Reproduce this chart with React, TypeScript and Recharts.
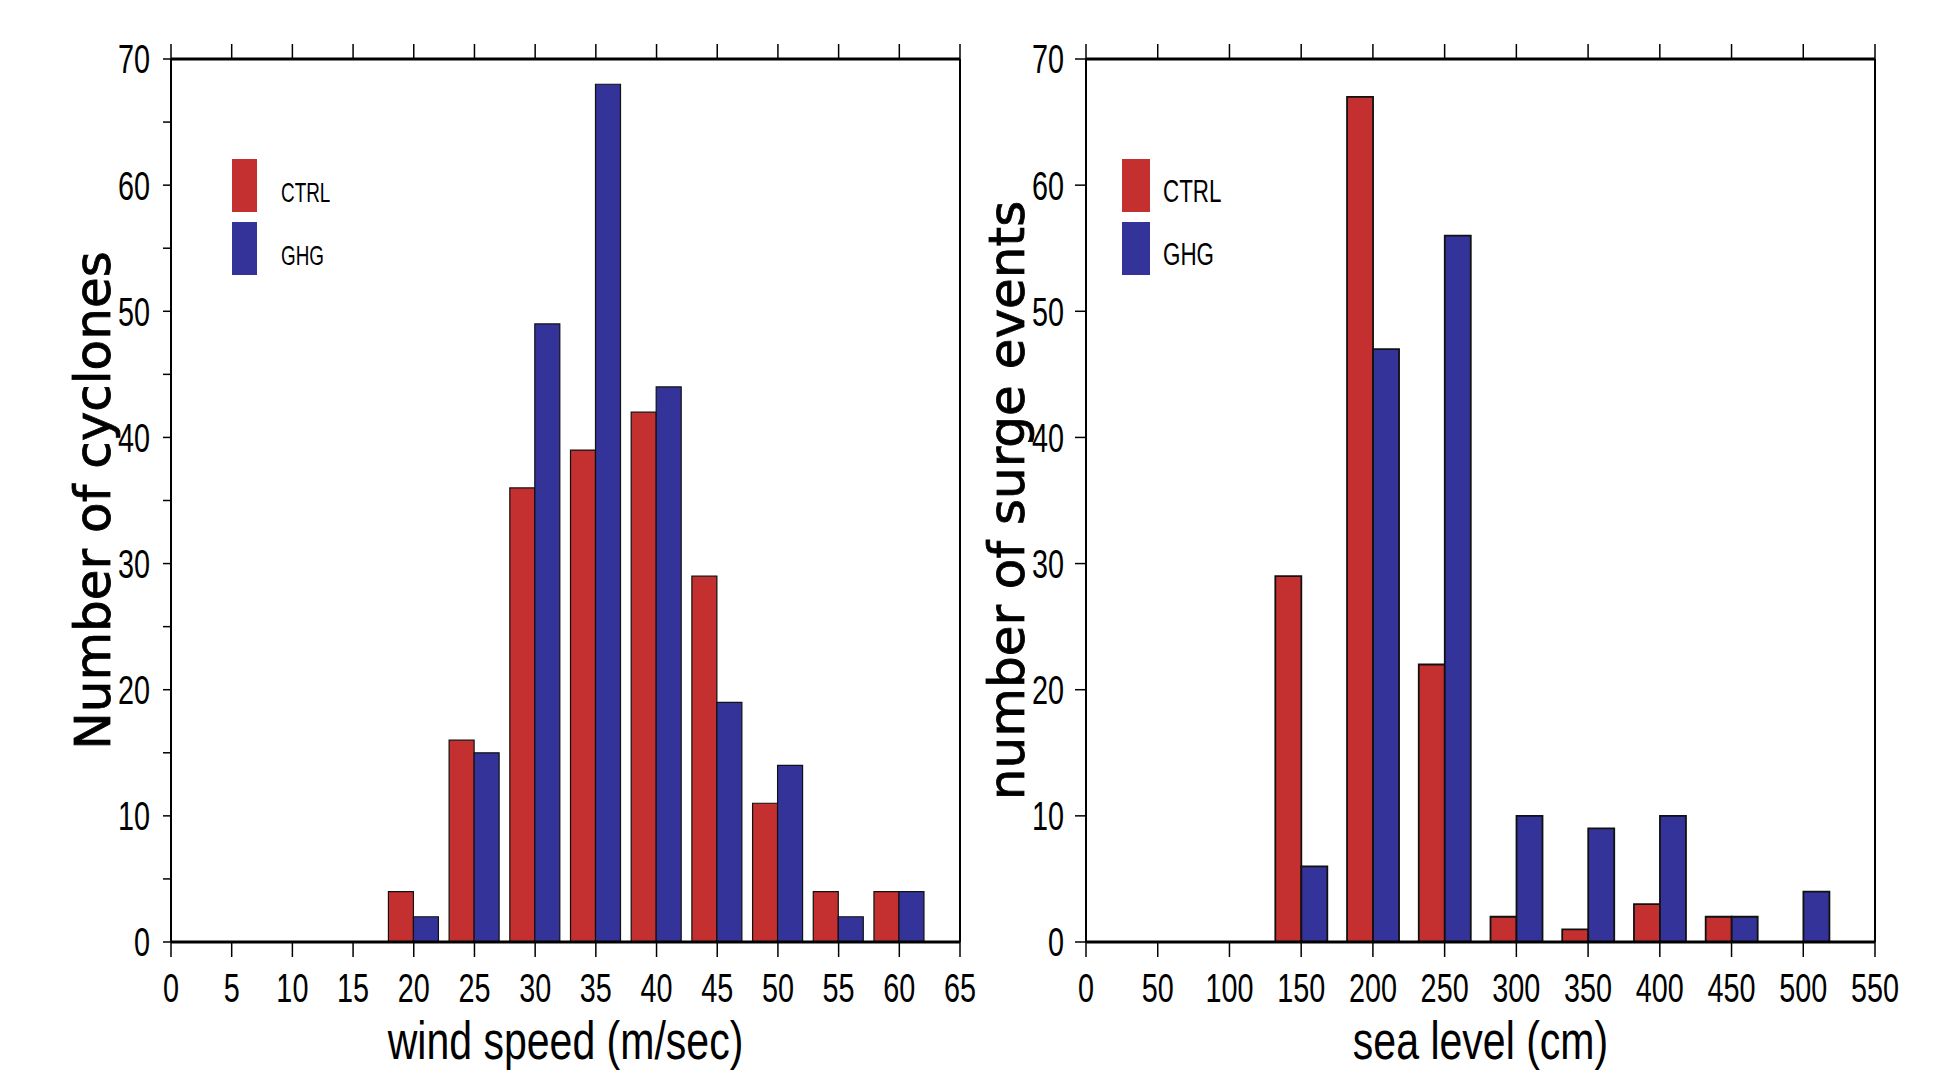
import React from 'react';
import { BarChart, Bar, XAxis, YAxis, Legend, Label } from 'recharts';

// ---------- data ----------
const windBins = [20, 25, 30, 35, 40, 45, 50, 55, 60];
const windCtrl = [4, 16, 36, 39, 42, 29, 11, 4, 4];
const windGhg = [2, 15, 49, 68, 44, 19, 14, 2, 4];
const windTicks = [0, 5, 10, 15, 20, 25, 30, 35, 40, 45, 50, 55, 60, 65];
const windCountTicks = [0, 5, 10, 15, 20, 25, 30, 35, 40, 45, 50, 55, 60, 65, 70];

const seaBins = [150, 200, 250, 300, 350, 400, 450, 500];
const seaCtrl = [29, 67, 22, 2, 1, 3, 2, 0];
const seaGhg = [6, 47, 56, 10, 9, 10, 2, 4];
const seaTicks = [0, 50, 100, 150, 200, 250, 300, 350, 400, 450, 500, 550];
const seaMinorTicks = [25, 75, 125, 175, 225, 275, 325, 375, 425, 475, 525];
const surgeMajorTicks = [0, 10, 20, 30, 40, 50, 60, 70];
const surgeMinorTicks = [0, 2, 4, 6, 8, 10, 12, 14, 16, 18, 20, 22, 24, 26, 28, 30, 32, 34, 36, 38, 40, 42, 44, 46, 48, 50, 52, 54, 56, 58, 60, 62, 64, 66, 68, 70];

const series = [
  { key: 'ctrl', name: 'CTRL', color: '#C43030' },
  { key: 'ghg', name: 'GHG', color: '#333399' },
];

const windData = windBins.map((x, i) => ({ x, ctrl: windCtrl[i], ghg: windGhg[i] }));
const seaData = seaBins.map((x, i) => ({ x, ctrl: seaCtrl[i], ghg: seaGhg[i] }));

// ---------- styles ----------
const SANS = "'Liberation Sans', Arial, Helvetica, sans-serif";
const WIDE = "'DejaVu Sans', Verdana, sans-serif";
const blank = () => '';

// condensed text: Liberation Sans squeezed horizontally
const Narrow = ({ x, y, sx, size, anchor, dy, children }: any) => (
  <text transform={`translate(${x},${y}) scale(${sx},1)`} x={0} y={0} dy={dy || 0}
    textAnchor={anchor || 'start'} style={{ fontFamily: SANS, fontSize: size, fill: '#000' }}>
    {children}
  </text>
);

const xTick = (props: any) => {
  const { x, y, payload } = props;
  return <Narrow x={x} y={y} sx={0.72} size={40} anchor="middle" dy="0.71em">{String(payload.value)}</Narrow>;
};

const yTick = (every: number) => (props: any) => {
  const { x, y, payload } = props;
  const v = payload.value;
  if (v % every !== 0) return <g />;
  return <Narrow x={x} y={y} sx={0.72} size={40} anchor="end" dy="0.36em">{String(v)}</Narrow>;
};

const yTitle = (text: string, cx: number) => (props: any) => {
  const vb = props.viewBox || {};
  const cy = vb.y + vb.height / 2;
  const x = vb.x + cx;
  return (
    <text x={x} y={cy} textAnchor="middle" dominantBaseline="central"
      transform={`rotate(-90, ${x}, ${cy})`} stroke="#000" strokeWidth={0.8}
      style={{ fontFamily: WIDE, fontSize: 50, fill: '#000' }}>{text}</text>
  );
};

const xTitle = (text: string) => (props: any) => {
  const vb = props.viewBox || {};
  return <Narrow x={vb.x + vb.width / 2} y={vb.y + 117} sx={0.76} size={54} anchor="middle">{text}</Narrow>;
};

const legendContent = (x: number, w: number, tx: number, fs: number) => () => (
  <svg width={400} height={300} style={{ overflow: 'visible' }}>
    {series.map((s, i) => (
      <g key={s.key}>
        <rect x={x} y={159 + i * 63} width={w} height={53} fill={s.color} />
        <Narrow x={tx} y={202 + i * 63} sx={0.7} size={fs}>{s.name}</Narrow>
      </g>
    ))}
  </svg>
);

const axisBold = { stroke: '#000', strokeWidth: 3 };
const axisThin = { stroke: '#000', strokeWidth: 2 };
const tickLn = { stroke: '#000', strokeWidth: 1.5 };

function WindChart() {
  return (
    <BarChart width={977} height={1070} data={windData} barGap={0}
      margin={{ top: 0, right: 0, bottom: 0, left: 0 }}>
      <XAxis xAxisId="b" dataKey="x" type="number" domain={[0, 65]} ticks={windTicks}
        interval={0} height={128} tickSize={15} tickMargin={17} tick={xTick}
        axisLine={axisBold} tickLine={tickLn}>
        <Label content={xTitle('wind speed (m/sec)')} />
      </XAxis>
      <XAxis xAxisId="t" orientation="top" dataKey="x" type="number" domain={[0, 65]} ticks={windTicks}
        interval={0} height={59} tickSize={15} tickFormatter={blank}
        axisLine={axisBold} tickLine={tickLn} />
      <YAxis yAxisId="l" type="number" domain={[0, 70]} ticks={windCountTicks} interval={0}
        width={171} tickSize={8} tickMargin={13} tick={yTick(10)}
        axisLine={axisThin} tickLine={tickLn}>
        <Label content={yTitle('Number of cyclones', 93)} />
      </YAxis>
      <YAxis yAxisId="r" orientation="right" type="number" domain={[0, 70]} ticks={windCountTicks}
        interval={0} width={17} tickSize={10} tickFormatter={blank}
        axisLine={axisThin} tickLine={tickLn} />
      {series.map((s) => (
        <Bar key={s.key} dataKey={s.key} name={s.name} xAxisId="b" yAxisId="l" fill={s.color}
          stroke="#111" strokeWidth={1.2} barSize={25} isAnimationActive={false} />
      ))}
      <Legend layout="vertical" align="center" verticalAlign="middle"
        wrapperStyle={{ left: 0, top: 0, width: 400, height: 300 }}
        content={legendContent(232, 25, 281, 27)} />
    </BarChart>
  );
}

function SeaChart() {
  return (
    <BarChart width={977} height={1070} data={seaData} barGap={0}
      margin={{ top: 0, right: 0, bottom: 0, left: 0 }}>
      <XAxis xAxisId="b" dataKey="x" type="number" domain={[0, 550]} ticks={seaTicks}
        interval={0} height={128} tickSize={15} tickMargin={17} tick={xTick}
        axisLine={axisBold} tickLine={tickLn}>
        <Label content={xTitle('sea level (cm)')} />
      </XAxis>
      <XAxis xAxisId="bm" dataKey="x" type="number" domain={[0, 550]} ticks={seaMinorTicks}
        interval={0} height={0} tickSize={8} tickFormatter={blank} axisLine={false}
        tickLine={tickLn} />
      <XAxis xAxisId="t" orientation="top" dataKey="x" type="number" domain={[0, 550]} ticks={seaTicks}
        interval={0} height={59} tickSize={15} tickFormatter={blank}
        axisLine={axisBold} tickLine={tickLn} />
      <XAxis xAxisId="tm" orientation="top" dataKey="x" type="number" domain={[0, 550]} ticks={seaMinorTicks}
        interval={0} height={0} tickSize={7} tickFormatter={blank} axisLine={false}
        tickLine={tickLn} />
      <YAxis yAxisId="l" type="number" domain={[0, 70]} ticks={surgeMajorTicks} interval={0}
        width={109} tickSize={11} tickMargin={11} tick={yTick(10)}
        axisLine={axisThin} tickLine={tickLn}>
        <Label content={yTitle('number of surge events', 30)} />
      </YAxis>
      <YAxis yAxisId="lm" type="number" domain={[0, 70]} ticks={surgeMinorTicks} interval={0}
        width={0} tickSize={6} tickFormatter={blank} axisLine={false}
        tickLine={tickLn} />
      <YAxis yAxisId="r" orientation="right" type="number" domain={[0, 70]} ticks={surgeMajorTicks}
        interval={0} width={79} tickSize={11} tickFormatter={blank}
        axisLine={axisThin} tickLine={tickLn} />
      <YAxis yAxisId="rm" orientation="right" type="number" domain={[0, 70]} ticks={surgeMinorTicks}
        interval={0} width={0} tickSize={6} tickFormatter={blank} axisLine={false}
        tickLine={tickLn} />
      {series.map((s) => (
        <Bar key={s.key} dataKey={s.key} name={s.name} xAxisId="b" yAxisId="l" fill={s.color}
          stroke="#111" strokeWidth={1.8} barSize={26} isAnimationActive={false} />
      ))}
      <Legend layout="vertical" align="center" verticalAlign="middle"
        wrapperStyle={{ left: 0, top: 0, width: 400, height: 300 }}
        content={legendContent(145, 28, 186, 32)} />
    </BarChart>
  );
}

export default function App() {
  return (
    <div style={{ position: 'absolute', left: 0, top: 0, width: 1954, height: 1070, background: '#fff', overflow: 'hidden' }}>
      <div style={{ position: 'absolute', left: 0, top: 0 }}>
        <WindChart />
      </div>
      <div style={{ position: 'absolute', left: 977, top: 0 }}>
        <SeaChart />
      </div>
    </div>
  );
}
